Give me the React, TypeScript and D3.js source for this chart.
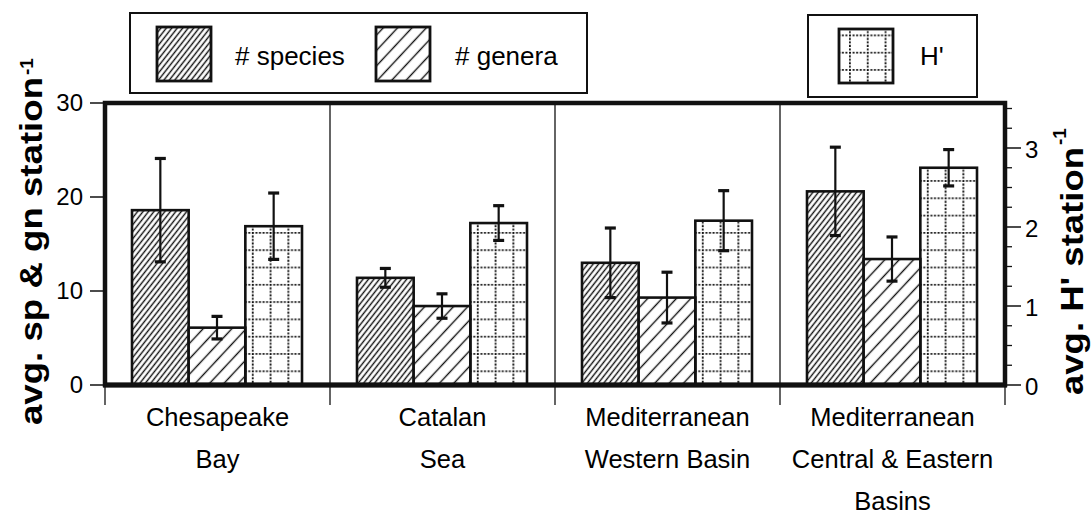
import React from "react";
import * as d3 from "d3";

// ---- data ----
const categoryKeys = [
  "Chesapeake Bay",
  "Catalan Sea",
  "Mediterranean Western Basin",
  "Mediterranean Central & Eastern Basins",
];
const categoryLines = [
  ["Chesapeake", "Bay"],
  ["Catalan", "Sea"],
  ["Mediterranean", "Western Basin"],
  ["Mediterranean", "Central & Eastern", "Basins"],
];
const seriesKeys = ["species", "genera", "H"];
const speciesMean = [18.6, 11.4, 13.0, 20.6];
const speciesErr = [5.5, 1.0, 3.7, 4.7];
const generaMean = [6.1, 8.4, 9.3, 13.4];
const generaErr = [1.2, 1.3, 2.7, 2.35];
const hMean = [2.01, 2.05, 2.08, 2.75];
const hErr = [0.42, 0.22, 0.38, 0.23];
const leftTicks = [0, 10, 20, 30];
const rightMajorTicks = [0, 1, 2, 3];
const rightMinorTicks = [0.25, 0.5, 0.75, 1.25, 1.5, 1.75, 2.25, 2.5, 2.75, 3.25, 3.5];

const FONT = "'Liberation Sans', Arial, Helvetica, sans-serif";

export default function App() {
  const L = 105, R = 1005, T = 103, B = 385;
  const x0 = d3.scaleBand<string>().domain(categoryKeys).range([L, R]).padding(0);
  const x1 = d3.scaleBand<string>().domain(seriesKeys).range([27, 197]).padding(0);
  const yL = d3.scaleLinear().domain([0, 30]).range([B, T]);
  const yR = d3.scaleLinear().domain([0, 3]).range([B, 148]);

  const bars: any[] = [];
  categoryKeys.forEach((c, i) => {
    const bx = x0(c)!;
    bars.push({ i, s: "species", x: bx + x1("species")!, w: x1.bandwidth(), m: speciesMean[i], e: speciesErr[i], y: yL, fill: "url(#hatchDense)" });
    bars.push({ i, s: "genera", x: bx + x1("genera")!, w: x1.bandwidth(), m: generaMean[i], e: generaErr[i], y: yL, fill: "url(#hatchSparse)" });
    bars.push({ i, s: "H", x: bx + x1("H")!, w: x1.bandwidth(), m: hMean[i], e: hErr[i], y: yR, fill: `url(#grid${i})` });
  });

  const gridPattern = (id: string, ox: number, oy: number) => (
    <pattern key={id} id={id} patternUnits="userSpaceOnUse" x={ox} y={oy} width={17.8} height={17.3}>
      <line x1={0} y1={0.9} x2={17.8} y2={0.9} stroke="#111" strokeWidth={1.8} strokeDasharray="2,1.56" />
      <line x1={0.9} y1={0} x2={0.9} y2={17.3} stroke="#111" strokeWidth={1.8} strokeDasharray="2,1.46" />
    </pattern>
  );

  const lineH = 42;

  return (
    <svg width={1092} height={515} style={{ position: "absolute", left: 0, top: 0, display: "block", background: "#fff" }} fontFamily={FONT}>
      <defs>
        <pattern id="hatchDense" patternUnits="userSpaceOnUse" width={4.3} height={4.3} patternTransform="rotate(38)">
          <rect width={4.3} height={4.3} fill="#fff" />
          <line x1={2.15} y1={-1} x2={2.15} y2={5.3} stroke="#111" strokeWidth={1.4} />
        </pattern>
        <pattern id="hatchSparse" patternUnits="userSpaceOnUse" width={10.5} height={10.5} patternTransform="rotate(43)">
          <rect width={10.5} height={10.5} fill="#fff" />
          <line x1={5.25} y1={-1} x2={5.25} y2={11.5} stroke="#111" strokeWidth={1.4} />
        </pattern>
        {categoryKeys.map((c, i) => gridPattern(`grid${i}`, x0(c)! + x1("H")! + 6.5, B - 14.6))}
        {gridPattern("gridLegend", 849, 34.5)}
      </defs>

      {/* legends */}
      <rect x={130} y={13} width={457} height={80} fill="#fff" stroke="#111" strokeWidth={2} />
      <rect x={157} y={27} width={54} height={54} fill="url(#hatchDense)" stroke="#111" strokeWidth={2.8} />
      <text x={235} y={65} fontSize={26}>{"# species"}</text>
      <rect x={376} y={27} width={54} height={54} fill="url(#hatchSparse)" stroke="#111" strokeWidth={2.8} />
      <text x={455} y={65} fontSize={26}>{"# genera"}</text>

      <rect x={808} y={15} width={169} height={82} fill="#fff" stroke="#111" strokeWidth={2} />
      <rect x={839} y={29} width={54} height={54} fill="url(#gridLegend)" stroke="#111" strokeWidth={2.8} />
      <text x={920} y={65} fontSize={26}>{"H'"}</text>

      {/* bars */}
      {bars.map((b, k) => (
        <rect key={"b" + k} x={b.x} y={b.y(b.m)} width={b.w} height={B - b.y(b.m)} fill={b.fill} stroke="#111" strokeWidth={2.6} />
      ))}
      {/* error bars */}
      {bars.map((b, k) => {
        const cx = b.x + b.w / 2;
        const y1 = b.y(b.m + b.e), y2 = b.y(b.m - b.e);
        return (
          <g key={"e" + k} stroke="#111">
            <line x1={cx} x2={cx} y1={y1} y2={y2} strokeWidth={2.2} />
            <line x1={cx - 5.5} x2={cx + 5.5} y1={y1} y2={y1} strokeWidth={3.2} />
            <line x1={cx - 5.5} x2={cx + 5.5} y1={y2} y2={y2} strokeWidth={3.2} />
          </g>
        );
      })}

      {/* category separators */}
      {categoryKeys.slice(1).map((c) => (
        <line key={"s" + c} x1={x0(c)!} x2={x0(c)!} y1={T} y2={405} stroke="#111" strokeWidth={1.3} />
      ))}
      <line x1={L} x2={L} y1={B} y2={405} stroke="#111" strokeWidth={1.3} />
      <line x1={R} x2={R} y1={B} y2={405} stroke="#111" strokeWidth={1.3} />

      {/* frame */}
      <rect x={L} y={T} width={R - L} height={B - T} fill="none" stroke="#111" strokeWidth={4.5} />
      <line x1={L - 2} x2={R + 2} y1={B} y2={B} stroke="#111" strokeWidth={5} />

      {/* left axis */}
      {leftTicks.map((t) => (
        <g key={"lt" + t}>
          <line x1={90} x2={L} y1={yL(t)} y2={yL(t)} stroke="#111" strokeWidth={1.5} />
          <text x={83} y={yL(t) - 1} fontSize={24} textAnchor="end" dominantBaseline="central">{t}</text>
        </g>
      ))}
      {/* right axis */}
      {rightMinorTicks.map((t) => (
        <line key={"rm" + t} x1={R} x2={R + 7} y1={yR(t)} y2={yR(t)} stroke="#111" strokeWidth={1.3} />
      ))}
      {rightMajorTicks.map((t) => (
        <g key={"rt" + t}>
          <line x1={R} x2={R + 16} y1={yR(t)} y2={yR(t)} stroke="#111" strokeWidth={1.5} />
          <text x={1025} y={yR(t) + 1} fontSize={24} dominantBaseline="central">{t}</text>
        </g>
      ))}

      {/* axis titles */}
      <text transform="translate(42,425) rotate(-90)" fontSize={32} fontWeight="bold" textLength={348} lengthAdjust="spacingAndGlyphs">avg. sp &amp; gn station</text>
      <text transform="translate(33,75) rotate(-90)" fontSize={19} fontWeight="bold">-1</text>
      <text transform="translate(1083,395) rotate(-90)" fontSize={32} fontWeight="bold" textLength={248} lengthAdjust="spacingAndGlyphs">avg. H' station</text>
      <text transform="translate(1066,145) rotate(-90)" fontSize={19} fontWeight="bold">-1</text>

      {/* category labels */}
      {categoryKeys.map((c, i) => (
        <text key={"cl" + c} x={x0(c)! + x0.bandwidth() / 2} y={426} fontSize={25.5} textAnchor="middle">
          {categoryLines[i].map((ln, j) => (
            <tspan key={j} x={x0(c)! + x0.bandwidth() / 2} y={426 + j * lineH}>{ln}</tspan>
          ))}
        </text>
      ))}
    </svg>
  );
}
